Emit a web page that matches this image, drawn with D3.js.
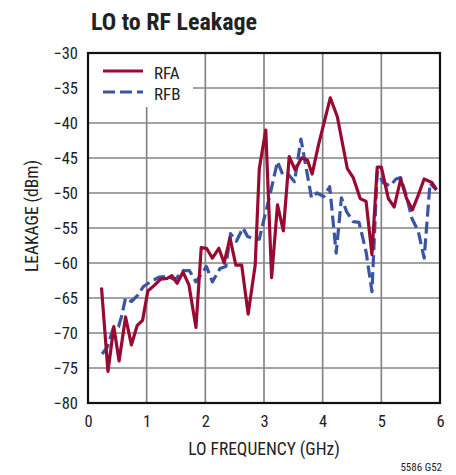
<!DOCTYPE html>
<html>
<head>
<meta charset="utf-8">
<script src="https://cdn.jsdelivr.net/npm/d3@7"></script>
<style>
  html, body { margin: 0; padding: 0; background: #fff; }
  svg { display: block; }
  text { font-family: "Liberation Sans Narrow", "Roboto Condensed", "Liberation Sans", sans-serif; fill: #222; }
</style>
</head>
<body>
<svg id="chart" width="456" height="475"></svg>
<script>
// LO to RF leakage vs LO frequency, two RF ports
const freqA = [0.23,0.34,0.44,0.53,0.64,0.74,0.84,0.93,1.02,1.13,1.24,1.35,1.43,1.52,1.62,1.72,1.84,1.93,2.02,2.12,2.23,2.32,2.42,2.52,2.62,2.73,2.85,2.92,3.03,3.13,3.23,3.33,3.43,3.53,3.64,3.74,3.82,3.93,4.13,4.25,4.42,4.52,4.64,4.74,4.84,4.93,5.00,5.12,5.22,5.33,5.43,5.53,5.63,5.73,5.86,5.94];
const leakA = [-63.5,-75.5,-69.1,-74.0,-67.7,-71.7,-68.9,-68.2,-64.0,-63.2,-62.3,-62.2,-61.8,-62.9,-61.3,-63.1,-69.2,-57.8,-57.9,-59.3,-57.9,-60.0,-56.4,-60.3,-60.3,-67.3,-60.3,-46.5,-41.0,-62.1,-51.7,-55.4,-44.8,-46.7,-45.0,-45.3,-47.3,-43.1,-36.4,-39.1,-46.5,-47.8,-50.8,-51.2,-58.8,-46.3,-46.3,-50.8,-52.0,-48.0,-50.8,-52.4,-50.3,-48.0,-48.5,-49.5];

const freqB = [0.24,0.33,0.43,0.52,0.57,0.64,0.74,0.85,0.94,1.08,1.22,1.36,1.48,1.62,1.73,1.84,2.02,2.12,2.25,2.35,2.43,2.53,2.64,2.72,2.85,2.92,2.99,3.10,3.23,3.32,3.40,3.52,3.63,3.72,3.81,3.90,4.02,4.12,4.23,4.32,4.41,4.52,4.62,4.74,4.84,4.93,5.03,5.15,5.25,5.33,5.43,5.52,5.63,5.73,5.83,5.94];
const leakB = [-73.0,-72.0,-69.3,-69.1,-67.7,-65.0,-65.5,-64.6,-63.4,-62.6,-62.0,-61.9,-62.4,-61.1,-61.1,-62.7,-60.5,-62.7,-60.8,-60.5,-55.8,-56.9,-55.0,-56.2,-56.6,-56.6,-54.1,-50.3,-45.5,-47.4,-47.2,-48.4,-42.3,-46.5,-50.7,-50.0,-50.5,-49.1,-58.6,-50.7,-52.7,-54.1,-54.2,-58.4,-64.1,-47.0,-48.5,-49.0,-48.0,-47.8,-50.5,-53.6,-55.5,-59.3,-48.6,-49.6];

const xTicks = [0,1,2,3,4,5,6];
const yTicks = [-30,-35,-40,-45,-50,-55,-60,-65,-70,-75,-80];
const seriesNames = ["RFA","RFB"];

const margin = {left: 88, top: 53, right: 16, bottom: 72};
const W = 456, H = 475;
const pw = W - margin.left - margin.right;   // 352
const ph = H - margin.top - margin.bottom;   // 350

const svg = d3.select("#chart");
const g = svg.append("g").attr("transform", `translate(${margin.left},${margin.top})`);

const x = d3.scaleLinear().domain([0, 6]).range([0, pw]);
const y = d3.scaleLinear().domain([-80, -30]).range([ph, 0]);

// grid
const gridColor = "#858585";
g.append("g").selectAll("line.vx").data(xTicks.slice(1, -1)).join("line")
  .attr("x1", d => x(d)).attr("x2", d => x(d)).attr("y1", 0).attr("y2", ph)
  .attr("stroke", gridColor).attr("stroke-width", 1.7);
g.append("g").selectAll("line.hy").data(yTicks.slice(1, -1)).join("line")
  .attr("x1", 0).attr("x2", pw).attr("y1", d => y(d)).attr("y2", d => y(d))
  .attr("stroke", gridColor).attr("stroke-width", 1.7);

// axes (labels only; frame drawn separately)
const fmt = d => d < 0 ? "\u2212" + Math.abs(d) : String(d);
const yAxis = g.append("g").call(d3.axisLeft(y).tickValues(yTicks).tickFormat(fmt).tickSize(0).tickPadding(10));
yAxis.select(".domain").remove();
yAxis.selectAll("text").attr("font-size", 16.5).attr("fill", "#222")
  .style("font-family", '"Liberation Sans Narrow", "Roboto Condensed", sans-serif');

const xAxis = g.append("g").attr("transform", `translate(0,${ph})`)
  .call(d3.axisBottom(x).tickValues(xTicks).tickFormat(d3.format("d")).tickSize(0).tickPadding(12));
xAxis.select(".domain").remove();
xAxis.selectAll("text").attr("font-size", 16.5).attr("fill", "#222")
  .style("font-family", '"Liberation Sans Narrow", "Roboto Condensed", sans-serif');

// legend box (white, covers grid)
g.append("rect").attr("x", 0).attr("y", 0).attr("width", 105).attr("height", 54).attr("fill", "#fff");

// series
const line = d3.line().x(d => x(d[0])).y(d => y(d[1]));
const dataA = freqA.map((f, i) => [f, leakA[i]]);
const dataB = freqB.map((f, i) => [f, leakB[i]]);
const colA = "#990a32", colB = "#3a54a6";

g.append("path").datum(dataB).attr("d", line).attr("fill", "none")
  .attr("stroke", colB).attr("stroke-width", 3.2).attr("stroke-dasharray", "12,5")
  .attr("stroke-linejoin", "round");
g.append("path").datum(dataA).attr("d", line).attr("fill", "none")
  .attr("stroke", colA).attr("stroke-width", 3.2).attr("stroke-linejoin", "round");

// frame
g.append("rect").attr("x", 0).attr("y", 0).attr("width", pw).attr("height", ph)
  .attr("fill", "none").attr("stroke", "#111").attr("stroke-width", 2.2);

// legend
const leg = g.append("g");
[[colA, null, 18], [colB, "12,5", 39]].forEach(([c, dash, ly], i) => {
  leg.append("line").attr("x1", 15).attr("x2", 55).attr("y1", ly).attr("y2", ly)
    .attr("stroke", c).attr("stroke-width", 3.2).attr("stroke-dasharray", dash);
  leg.append("text").attr("x", 66).attr("y", ly + 7.5).attr("font-size", 17).text(seriesNames[i]);
});

// titles
svg.append("text").attr("x", 91).attr("y", 30).attr("font-size", 24).attr("font-weight", "bold")
  .attr("fill", "#111").text("LO to RF Leakage");
svg.append("text").attr("x", margin.left + pw / 2).attr("y", 455).attr("text-anchor", "middle")
  .attr("font-size", 17.5).text("LO FREQUENCY (GHz)");
svg.append("text").attr("transform", "translate(38,216) rotate(-90)")
  .attr("text-anchor", "middle").attr("font-size", 17.5).text("LEAKAGE (dBm)");
svg.append("text").attr("x", 442).attr("y", 471).attr("text-anchor", "end")
  .attr("font-size", 11).text("5586 G52");
</script>
</body>
</html>
